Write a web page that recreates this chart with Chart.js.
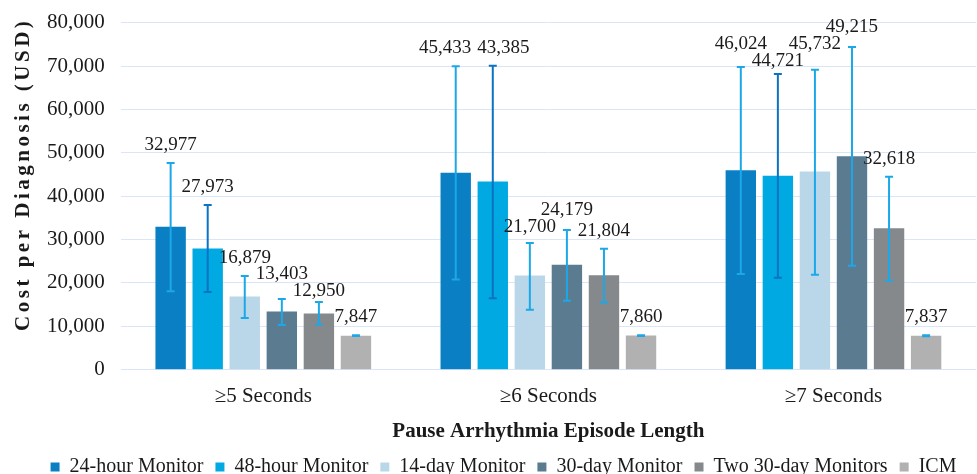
<!DOCTYPE html>
<html>
<head>
<meta charset="utf-8">
<script src="https://cdn.jsdelivr.net/npm/chart.js@4"></script>
<style>
  body { margin: 0; background: #fff; }
  #wrap { width: 977px; height: 474px; }
</style>
</head>
<body>
<div id="wrap"><canvas id="chart"></canvas></div>
<script>
const categories = ['≥5 Seconds', '≥6 Seconds', '≥7 Seconds'];
const seriesNames = ['24-hour Monitor', '48-hour Monitor', '14-day Monitor', '30-day Monitor', 'Two 30-day Monitors', 'ICM'];
const yTicks = [0, 10000, 20000, 30000, 40000, 50000, 60000, 70000, 80000];

// mean cost per diagnosis
const monitor24h = [32977, 45433, 46024];
const monitor48h = [27973, 43385, 44721];
const monitor14d = [16879, 21700, 45732];
const monitor30d = [13403, 24179, 49215];
const twoMonitors30d = [12950, 21804, 32618];
const icm = [7847, 7860, 7837];

// error bar ends
const low24h = [18100, 20800, 22100];
const high24h = [47700, 70000, 69800];
const low48h = [17900, 16500, 21200];
const high48h = [38000, 70100, 68200];
const low14d = [11900, 13800, 21900];
const high14d = [21600, 29200, 69200];
const low30d = [10300, 15900, 24000];
const high30d = [16300, 32200, 74400];
const lowTwo30d = [10400, 15500, 20500];
const highTwo30d = [15600, 27900, 44500];
const lowIcm = [7750, 7760, 7740];
const highIcm = [7950, 7960, 7940];

const serif = '"Liberation Serif", "Times New Roman", serif';
const colors = ['#0a7fc4', '#00a9e1', '#bad7ea', '#5a7b90', '#85898c', '#b1b1b1'];
const errColors = ['#1ca8e8', '#0c72c4', '#1ca8e8', '#1ca8e8', '#1ca8e8', '#1ca8e8'];

const values = [monitor24h, monitor48h, monitor14d, monitor30d, twoMonitors30d, icm];
const lows = [low24h, low48h, low14d, low30d, lowTwo30d, lowIcm];
const highs = [high24h, high48h, high14d, high30d, highTwo30d, highIcm];

const fmt = v => v.toLocaleString('en-US');

const errorBars = {
    id: 'errorBars',
    afterDatasetsDraw(chart) {
        const ctx = chart.ctx;
        const y = chart.scales.y;
        ctx.save();
        ctx.lineWidth = 2;
        chart.data.datasets.forEach((ds, i) => {
            const meta = chart.getDatasetMeta(i);
            ctx.strokeStyle = errColors[i];
            meta.data.forEach((bar, j) => {
                const yl = y.getPixelForValue(lows[i][j]);
                const yh = y.getPixelForValue(highs[i][j]);
                ctx.beginPath();
                ctx.moveTo(bar.x, yl); ctx.lineTo(bar.x, yh);
                ctx.moveTo(bar.x - 4, yl); ctx.lineTo(bar.x + 4, yl);
                ctx.moveTo(bar.x - 4, yh); ctx.lineTo(bar.x + 4, yh);
                ctx.stroke();
            });
        });
        ctx.restore();
    }
};

// value labels above the error bars, nudged apart when they collide
const valueLabels = {
    id: 'valueLabels',
    afterDatasetsDraw(chart) {
        const ctx = chart.ctx;
        const y = chart.scales.y;
        const H = 17;
        ctx.save();
        ctx.font = '19px ' + serif;
        ctx.fillStyle = '#1a1a1a';
        ctx.textAlign = 'center';
        ctx.textBaseline = 'middle';
        categories.forEach((c, j) => {
            const placed = [];
            values.forEach((vals, i) => {
                const bar = chart.getDatasetMeta(i).data[j];
                const text = fmt(vals[j]);
                const lab = { text, x: bar.x, y: y.getPixelForValue(highs[i][j]) - 18, w: ctx.measureText(text).width, moved: false };
                const prev = placed[placed.length - 1];
                if (prev && Math.abs(lab.x - prev.x) < (lab.w + prev.w) / 2 + 2 && Math.abs(lab.y - prev.y) < H) {
                    const dy = lab.y - prev.y;
                    const sign = dy > 0 ? 1 : -1;
                    if (Math.abs(dy) < 2) {
                        const shift = ((lab.w + prev.w) / 2 + 6 - Math.abs(lab.x - prev.x)) / 2;
                        prev.x -= shift; lab.x += shift;
                    } else if (!prev.moved) {
                        const need = H - Math.abs(dy);
                        prev.y -= sign * need / 2; lab.y += sign * need / 2;
                        prev.moved = true; lab.moved = true;
                    } else {
                        lab.y = prev.y + sign * H; lab.moved = true;
                    }
                }
                placed.push(lab);
            });
            placed.forEach(l => ctx.fillText(l.text, l.x, l.y));
        });
        ctx.restore();
    }
};

const yTitle = {
    id: 'yTitle',
    afterDraw(chart) {
        const ctx = chart.ctx;
        const a = chart.chartArea;
        ctx.save();
        ctx.translate(24, (a.top + a.bottom) / 2 - 22);
        ctx.rotate(-Math.PI / 2);
        ctx.font = 'bold 21px ' + serif;
        ctx.letterSpacing = '3.5px';
        ctx.fillStyle = '#1a1a1a';
        ctx.textAlign = 'center';
        ctx.textBaseline = 'middle';
        ctx.fillText('Cost per Diagnosis (USD)', 0, 0);
        ctx.restore();
    }
};

new Chart(document.getElementById('chart'), {
    type: 'bar',
    data: {
        labels: categories,
        datasets: seriesNames.map((name, i) => ({
            label: name,
            data: values[i],
            backgroundColor: colors[i],
            borderWidth: 0,
            barPercentage: 0.82,
            categoryPercentage: 0.78
        }))
    },
    options: {
        responsive: true,
        maintainAspectRatio: false,
        animation: false,
        layout: { padding: { left: 31, right: 1, top: 0, bottom: -13 } },
        plugins: {
            legend: {
                position: 'bottom',
                labels: {
                    boxWidth: 9,
                    boxHeight: 9,
                    padding: 12,
                    color: '#1a1a1a',
                    font: { family: serif, size: 20 }
                }
            },
            tooltip: { enabled: false }
        },
        scales: {
            x: {
                grid: { display: false },
                border: { display: false },
                ticks: { color: '#1a1a1a', padding: 6, font: { family: serif, size: 21 } },
                title: {
                    display: true,
                    text: 'Pause Arrhythmia Episode Length',
                    color: '#1a1a1a',
                    padding: { top: 5, bottom: 2 },
                    font: { family: serif, size: 21, weight: 'bold', lineHeight: 1.1 }
                }
            },
            y: {
                min: 0,
                max: 80000,
                afterBuildTicks: scale => { scale.ticks = yTicks.map(v => ({ value: v })); },
                grid: { color: '#d8e6f7', lineWidth: 1, drawTicks: false },
                border: { display: false },
                ticks: {
                    color: '#1a1a1a',
                    padding: 16,
                    font: { family: serif, size: 21, lineHeight: 0.65 },
                    callback: v => fmt(v)
                }
            }
        }
    },
    plugins: [errorBars, valueLabels, yTitle]
});
</script>
</body>
</html>
